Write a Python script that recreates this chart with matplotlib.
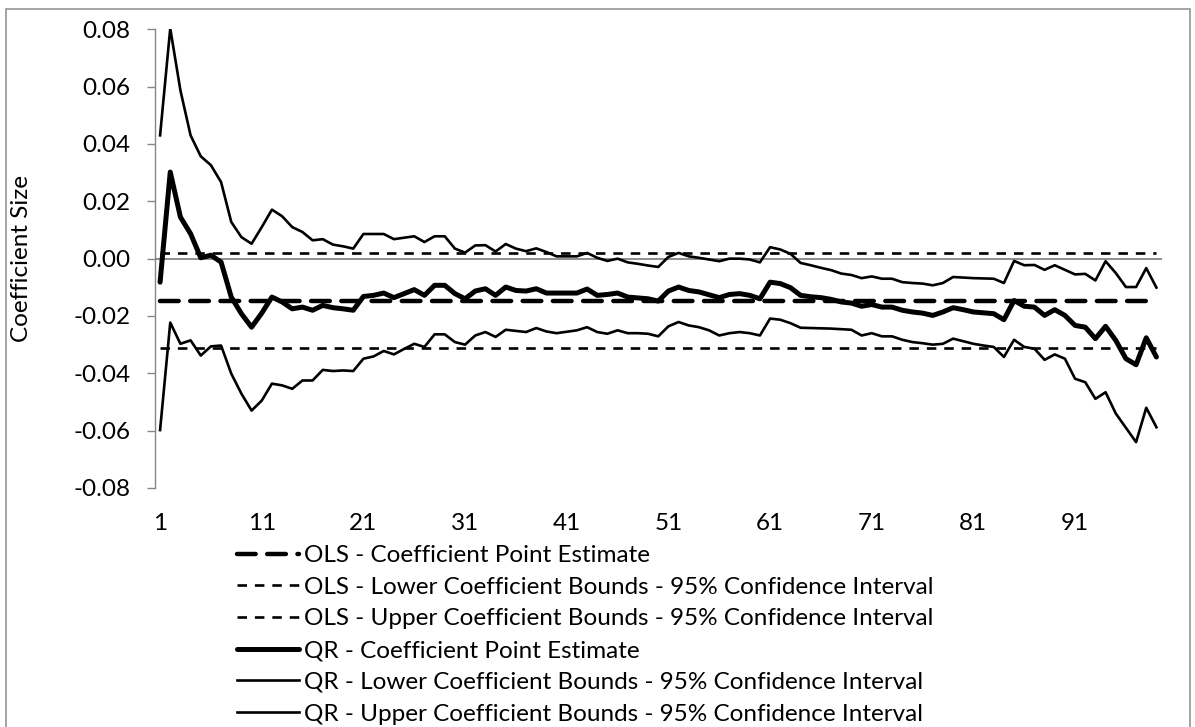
import matplotlib
matplotlib.use("Agg")
import matplotlib.pyplot as plt
from matplotlib.patches import Rectangle
import numpy as np

plt.rcParams['font.family'] = ['Lato', 'DejaVu Sans']

# Quantile index 1..99
quantiles = np.arange(1, 100)

# OLS estimate and its 95% interval (constant across quantiles)
ols_point = -0.0146
ols_lower = -0.0312
ols_upper = 0.0018

qr_point = [
    -0.0082, 0.0302, 0.0145, 0.0087, 0.0003, 0.0012, -0.0012, -0.0134, -0.0192, -0.0239,
    -0.0190, -0.0134, -0.0151, -0.0175, -0.0169, -0.0180, -0.0163, -0.0171, -0.0175, -0.0180,
    -0.0132, -0.0128, -0.0120, -0.0136, -0.0122, -0.0108, -0.0128, -0.0093, -0.0093, -0.0122,
    -0.0140, -0.0113, -0.0105, -0.0128, -0.0099, -0.0111, -0.0113, -0.0105, -0.0120, -0.0120,
    -0.0120, -0.0120, -0.0106, -0.0128, -0.0125, -0.0120, -0.0134, -0.0137, -0.0140, -0.0148,
    -0.0113, -0.0099, -0.0111, -0.0116, -0.0126, -0.0136, -0.0125, -0.0122, -0.0128, -0.0140,
    -0.0082, -0.0087, -0.0101, -0.0128, -0.0133, -0.0136, -0.0142, -0.0151, -0.0155, -0.0166,
    -0.0160, -0.0169, -0.0169, -0.0180, -0.0186, -0.0190, -0.0198, -0.0186, -0.0171, -0.0178,
    -0.0186, -0.0189, -0.0192, -0.0213, -0.0146, -0.0166, -0.0169, -0.0198, -0.0178, -0.0198,
    -0.0233, -0.0239, -0.0279, -0.0236, -0.0285, -0.0349, -0.0370, -0.0276, -0.0343,
]

qr_lower = [
    -0.0598, -0.0223, -0.0297, -0.0285, -0.0338, -0.0306, -0.0303, -0.0401, -0.0471, -0.0530,
    -0.0495, -0.0436, -0.0442, -0.0454, -0.0425, -0.0425, -0.0388, -0.0392, -0.0390, -0.0392,
    -0.0349, -0.0341, -0.0322, -0.0334, -0.0315, -0.0297, -0.0308, -0.0264, -0.0264, -0.0291,
    -0.0300, -0.0268, -0.0256, -0.0273, -0.0248, -0.0252, -0.0256, -0.0242, -0.0254, -0.0260,
    -0.0255, -0.0250, -0.0239, -0.0256, -0.0262, -0.0250, -0.0260, -0.0260, -0.0262, -0.0271,
    -0.0236, -0.0221, -0.0233, -0.0239, -0.0250, -0.0268, -0.0260, -0.0256, -0.0260, -0.0268,
    -0.0209, -0.0213, -0.0225, -0.0241, -0.0242, -0.0243, -0.0244, -0.0246, -0.0248, -0.0268,
    -0.0260, -0.0271, -0.0271, -0.0283, -0.0291, -0.0295, -0.0300, -0.0297, -0.0279, -0.0288,
    -0.0297, -0.0303, -0.0308, -0.0343, -0.0283, -0.0308, -0.0314, -0.0353, -0.0334, -0.0349,
    -0.0419, -0.0431, -0.0489, -0.0466, -0.0540, -0.0590, -0.0640, -0.0520, -0.0588,
]

qr_upper = [
    0.0430, 0.0803, 0.0587, 0.0430, 0.0357, 0.0326, 0.0267, 0.0128, 0.0075, 0.0052,
    0.0110, 0.0171, 0.0148, 0.0110, 0.0093, 0.0064, 0.0068, 0.0049, 0.0043, 0.0035,
    0.0086, 0.0086, 0.0086, 0.0068, 0.0073, 0.0078, 0.0058, 0.0078, 0.0078, 0.0035,
    0.0021, 0.0046, 0.0047, 0.0025, 0.0051, 0.0035, 0.0026, 0.0036, 0.0023, 0.0008,
    0.0008, 0.0008, 0.0020, 0.0003, -0.0008, 0.0000, -0.0013, -0.0018, -0.0024, -0.0029,
    0.0006, 0.0020, 0.0008, 0.0003, -0.0003, -0.0009, 0.0000, 0.0000, -0.0003, -0.0013,
    0.0040, 0.0032, 0.0017, -0.0015, -0.0023, -0.0032, -0.0040, -0.0052, -0.0057, -0.0068,
    -0.0062, -0.0070, -0.0070, -0.0082, -0.0085, -0.0087, -0.0093, -0.0085, -0.0064, -0.0066,
    -0.0068, -0.0069, -0.0070, -0.0085, -0.0008, -0.0023, -0.0022, -0.0039, -0.0023, -0.0039,
    -0.0055, -0.0053, -0.0076, -0.0009, -0.0050, -0.0099, -0.0099, -0.0033, -0.0101,
]

xtick_values = [1, 11, 21, 31, 41, 51, 61, 71, 81, 91]
ytick_values = [-0.08, -0.06, -0.04, -0.02, 0.0, 0.02, 0.04, 0.06, 0.08]
ytick_labels = ['-0.08', '-0.06', '-0.04', '-0.02', '0.00', '0.02', '0.04', '0.06', '0.08']

labels = [
    'OLS - Coefficient Point Estimate',
    'OLS - Lower Coefficient Bounds - 95% Confidence Interval',
    'OLS - Upper Coefficient Bounds - 95% Confidence Interval',
    'QR - Coefficient Point Estimate',
    'QR - Lower Coefficient Bounds - 95% Confidence Interval',
    'QR - Upper Coefficient Bounds - 95% Confidence Interval',
]

W, H = 1195, 727
fig = plt.figure(figsize=(W / 100, H / 100), dpi=100)
ax = fig.add_axes([155 / W, 1 - 488 / H, (1161.5 - 155) / W, (488 - 29.3) / H])

grey = '#868686'
fs = 17.5

# horizontal axis line through zero
ax.axhline(0, color=grey, lw=1.3, zorder=1)

n = len(quantiles)
ax.plot(quantiles, [ols_point] * n, color='black', lw=3.2,
        dashes=(4.2, 2.6), dash_capstyle='round', label=labels[0], zorder=3)
ax.plot(quantiles, [ols_lower] * n, color='black', lw=1.9,
        dashes=(3.6, 3.0), label=labels[1], zorder=3)
ax.plot(quantiles, [ols_upper] * n, color='black', lw=1.9,
        dashes=(3.6, 3.0), label=labels[2], zorder=3)
ax.plot(quantiles, qr_point, color='black', lw=3.6,
        solid_joinstyle='round', solid_capstyle='round', label=labels[3], zorder=4)
ax.plot(quantiles, qr_lower, color='black', lw=1.9,
        solid_joinstyle='round', label=labels[4], zorder=4)
ax.plot(quantiles, qr_upper, color='black', lw=1.9,
        solid_joinstyle='round', label=labels[5], zorder=4)

ax.set_xlim(0.5, 99.5)
ax.set_ylim(-0.08, 0.08)
ax.set_xticks(xtick_values)
ax.set_xticklabels([str(v) for v in xtick_values])
ax.set_yticks(ytick_values)
ax.set_yticklabels(ytick_labels)

for side in ['top', 'right', 'bottom']:
    ax.spines[side].set_visible(False)
ax.spines['left'].set_color(grey)
ax.spines['left'].set_linewidth(1.0)

ax.tick_params(axis='y', length=5.8, width=1.0, color=grey, pad=12, labelsize=fs)
ax.tick_params(axis='x', length=0, pad=18, labelsize=fs)

fig.text(22 / W, 1 - 258 / H, 'Coefficient Size', rotation=90,
         ha='center', va='center', fontsize=fs)

leg = ax.legend(loc='upper left', bbox_to_anchor=(237 / W, 1 - 545 / H),
                bbox_transform=fig.transFigure, frameon=False, fontsize=fs,
                handlelength=2.55, handletextpad=0.2, labelspacing=0.44,
                borderpad=0, borderaxespad=0)

# chart area border
fig.add_artist(Rectangle((5.5 / W, -0.1), (1190 - 5.5) / W, 1.1 - 9.3 / H,
                         transform=fig.transFigure, fill=False,
                         edgecolor='#8c8c8c', lw=1.1))

fig.savefig('out.png', dpi=100)
